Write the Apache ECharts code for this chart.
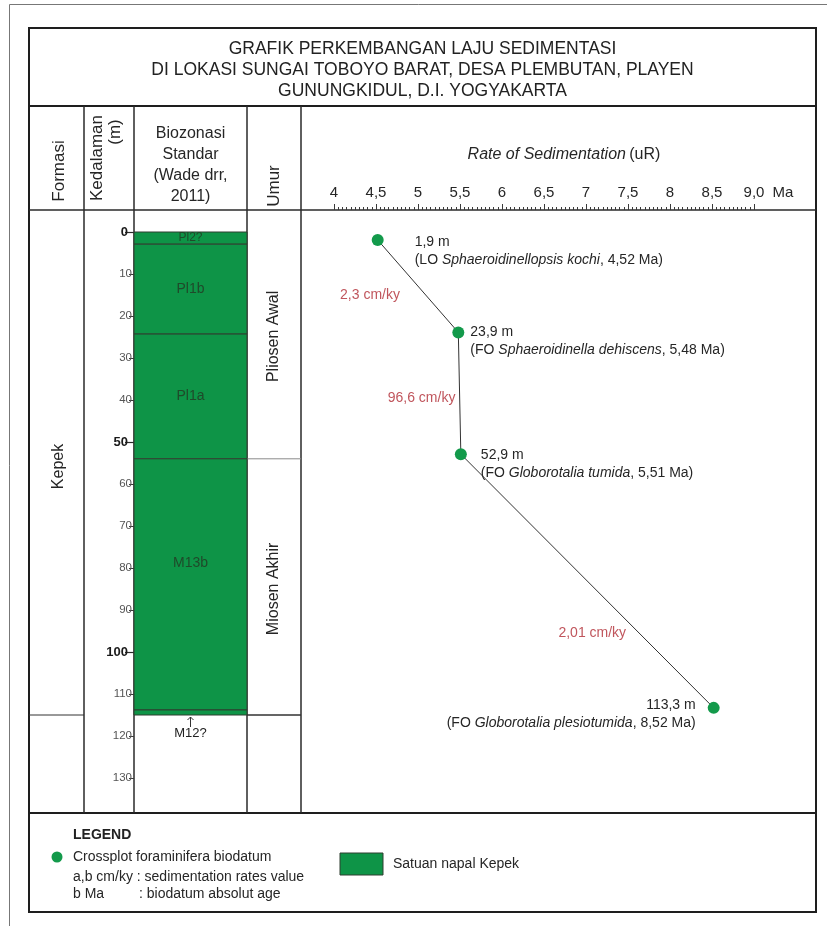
<!DOCTYPE html>
<html>
<head>
<meta charset="utf-8">
<script src="https://cdn.jsdelivr.net/npm/echarts@6/dist/echarts.min.js"></script>
<style>
  html, body { margin: 0; padding: 0; background: #ffffff; }
  #chart { width: 827px; height: 926px; }
</style>
</head>
<body>
<div id="chart"></div>
<script>
// ---- Biodatum crossplot: absolute age (Ma) against depth (m) ----
const datumAges = [4.52, 5.48, 5.51, 8.52];
const datumDepths = [1.9, 23.9, 52.9, 113.3];
const datumEvents = ['LO', 'FO', 'FO', 'FO'];
const datumSpecies = [
  'Sphaeroidinellopsis kochi',
  'Sphaeroidinella dehiscens',
  'Globorotalia tumida',
  'Globorotalia plesiotumida'
];
// sedimentation rate between consecutive biodatums
const rateLabels = ['2,3 cm/ky', '96,6 cm/ky', '2,01 cm/ky'];

// ---- Standard biozones (Wade drr, 2011) ----
const zoneNames = ['Pl2?', 'Pl1b', 'Pl1a', 'M13b', 'M12?'];
const zoneTops = [0, 2.9, 24.3, 54.0, 113.8];
const zoneBases = [2.9, 24.3, 54.0, 113.8, 115.0];

// ---- Age (Umur) and formation ----
const epochNames = ['Pliosen Awal', 'Miosen Akhir'];
const epochBases = [54.0, 115.0];
const formationName = 'Kepek';
const formationBase = 115.0;

// ---- Axis ticks ----
const depthTicks = [0, 10, 20, 30, 40, 50, 60, 70, 80, 90, 100, 110, 120, 130];
const depthBoldTicks = [0, 50, 100];
const depthMax = 138.33;
const ageTicks = [4, 4.5, 5, 5.5, 6, 6.5, 7, 7.5, 8, 8.5, 9];
const ageTickLabels = ['4', '4,5', '5', '5,5', '6', '6,5', '7', '7,5', '8', '8,5', '9,0'];

// ---- Layout ----
const FONT = '"Liberation Sans", Arial, sans-serif';
const GREEN = '#0e9447';
const DOT = '#139a4b';
const RED = '#b02a33';
const INK = '#262626';
const BOX = { l: 29, t: 28, r: 816, b: 912 };
const TITLE_B = 106, HEAD_B = 210, LEG_T = 813;
const COLS = [29, 84, 134, 247, 301, 816];
const PLOT_T = 232;
const RATE_L = 334, RATE_R = 754;
const zoneLabelShift = [0, 0, 0, -21, 0];
const rateLabelOffsets = [[-48, 9], [-38, 5], [5, 52]];
const pointLabelLayout = [
  { position: 'right', offset: [31, 11], align: 'left' },
  { position: 'right', offset: [6, 9], align: 'left' },
  { position: 'right', offset: [14, 10], align: 'left' },
  { position: 'left', offset: [-12, 6], align: 'right' }
];

const fmt = (v, d) => v.toFixed(d).replace('.', ',');

const chart = echarts.init(document.getElementById('chart'), null, { renderer: 'canvas' });

const plotH = LEG_T - PLOT_T;
const pxPerM = plotH / depthMax;
// the rate panel starts at the header line, so its depth scale starts above 0 m
const rateDepthMin = -(PLOT_T - HEAD_B) / pxPerM;

const pointData = datumAges.map((a, i) => {
  const lay = pointLabelLayout[i];
  return {
    value: [a, datumDepths[i]],
    label: {
      show: true,
      position: lay.position,
      distance: 0,
      offset: lay.offset,
      align: lay.align,
      formatter: '{n|' + fmt(datumDepths[i], 1) + ' m}\n{t|(' + datumEvents[i] + ' }{i|' +
        datumSpecies[i] + '}{t|, ' + fmt(a, 2) + ' Ma)}',
      rich: {
        n: { fontSize: 14, fontFamily: FONT, color: INK, lineHeight: 18, align: lay.align },
        t: { fontSize: 14, fontFamily: FONT, color: INK, lineHeight: 18 },
        i: { fontSize: 14, fontFamily: FONT, color: INK, lineHeight: 18, fontStyle: 'italic' }
      }
    }
  };
});

const rateData = rateLabels.map((txt, i) => ({
  value: [(datumAges[i] + datumAges[i + 1]) / 2, (datumDepths[i] + datumDepths[i + 1]) / 2],
  label: {
    show: true,
    position: 'inside',
    offset: rateLabelOffsets[i],
    formatter: txt,
    color: RED,
    fontSize: 14,
    fontFamily: FONT
  }
}));

const zoneData = zoneNames.map((n, i) => [zoneTops[i], zoneBases[i], i]);

const depthAxisBase = {
  gridIndex: 0, type: 'value', inverse: true, min: 0, max: depthMax,
  position: 'left', axisLine: { show: false, onZero: false }, splitLine: { show: false }
};

chart.setOption({
  animation: false,
  backgroundColor: '#ffffff',
  grid: [
    { left: COLS[2], top: PLOT_T, width: COLS[3] - COLS[2], height: plotH, outerBoundsMode: 'none' },
    { left: RATE_L, top: HEAD_B, width: RATE_R - RATE_L, height: LEG_T - HEAD_B, outerBoundsMode: 'none' }
  ],
  xAxis: [
    { gridIndex: 0, type: 'value', min: 0, max: 1, show: false },
    {
      gridIndex: 1, type: 'value', position: 'top',
      min: 4, max: 9, interval: 0.5,
      axisLine: { show: false, onZero: false },
      splitLine: { show: false },
      axisTick: { show: true, length: 6, lineStyle: { color: '#3a3a3a', width: 1 } },
      minorTick: { show: true, splitNumber: 10, length: 3, lineStyle: { color: '#3a3a3a', width: 1 } },
      axisLabel: {
        margin: 10, fontSize: 15, fontFamily: FONT, color: INK,
        formatter: v => {
          const k = ageTicks.findIndex(t => Math.abs(t - v) < 1e-6);
          return k >= 0 ? ageTickLabels[k] : '';
        }
      }
    }
  ],
  yAxis: [
    Object.assign({}, depthAxisBase, {
      axisTick: {
        show: true, length: 5, customValues: depthTicks.filter(v => depthBoldTicks.indexOf(v) < 0),
        lineStyle: { color: '#3a3a3a', width: 1 }
      },
      axisLabel: {
        show: true, margin: 2, fontSize: 11.5, fontFamily: FONT, color: '#555555',
        customValues: depthTicks.filter(v => depthBoldTicks.indexOf(v) < 0)
      }
    }),
    Object.assign({}, depthAxisBase, {
      axisTick: {
        show: true, length: 9, customValues: depthBoldTicks,
        lineStyle: { color: '#2a2a2a', width: 1.2 }
      },
      axisLabel: {
        show: true, margin: 6, fontSize: 13, fontWeight: 'bold', fontFamily: FONT, color: '#1a1a1a',
        customValues: depthBoldTicks
      }
    }),
    {
      gridIndex: 1, type: 'value', inverse: true, min: rateDepthMin, max: depthMax,
      show: false, splitLine: { show: false }, axisLine: { onZero: false }
    }
  ],
  series: [
    {
      type: 'custom',
      name: 'Biozonasi',
      xAxisIndex: 0,
      yAxisIndex: 0,
      data: zoneData,
      renderItem: (params, api) => {
        const top = api.value(0), base = api.value(1), idx = api.value(2);
        const p0 = api.coord([0, top]);
        const p1 = api.coord([1, base]);
        const h = p1[1] - p0[1];
        const cx = (p0[0] + p1[0]) / 2;
        const children = [{
          type: 'rect',
          shape: { x: p0[0], y: p0[1], width: p1[0] - p0[0], height: h },
          style: { fill: GREEN, stroke: '#2f3f30', lineWidth: 1 }
        }];
        if (h > 8) {
          children.push({
            type: 'text',
            x: cx, y: p0[1] + h / 2 + zoneLabelShift[idx],
            style: {
              text: zoneNames[idx], fill: '#1f4a2a', align: 'center', verticalAlign: 'middle',
              font: (h < 20 ? '12px ' : '14px ') + FONT
            }
          });
        } else {
          // thin zone: name below with an arrow pointing up to it
          children.push({
            type: 'polyline',
            shape: { points: [[cx, p1[1] + 12], [cx, p1[1] + 2]] },
            style: { stroke: '#333', lineWidth: 1, fill: null }
          });
          children.push({
            type: 'polyline',
            shape: { points: [[cx - 3, p1[1] + 5], [cx, p1[1] + 2], [cx + 3, p1[1] + 5]] },
            style: { stroke: '#333', lineWidth: 1, fill: null }
          });
          children.push({
            type: 'text',
            x: cx, y: p1[1] + 18,
            style: {
              text: zoneNames[idx], fill: '#222', align: 'center', verticalAlign: 'middle',
              font: '13px ' + FONT
            }
          });
        }
        return { type: 'group', children: children };
      },
      z: 2
    },
    {
      type: 'line',
      name: 'Biodatum',
      xAxisIndex: 1,
      yAxisIndex: 2,
      data: pointData,
      symbol: 'circle',
      symbolSize: 12,
      itemStyle: { color: DOT },
      lineStyle: { color: '#333333', width: 1 },
      z: 5
    },
    {
      type: 'scatter',
      name: 'Laju sedimentasi',
      xAxisIndex: 1,
      yAxisIndex: 2,
      data: rateData,
      symbolSize: 1,
      itemStyle: { color: 'rgba(0,0,0,0)' },
      z: 6
    }
  ]
});

// ---- Frame, header and legend, placed with the depth scale ----
const yPx = d => chart.convertToPixel({ yAxisIndex: 0 }, d);
const line = (x1, y1, x2, y2, stroke, w) => ({
  type: 'line', silent: true,
  shape: { x1: x1, y1: y1, x2: x2, y2: y2 },
  style: { stroke: stroke, lineWidth: w }
});
const text = (t, x, y, opt) => Object.assign({
  type: 'text', silent: true, x: x, y: y,
  style: Object.assign({
    text: t, fill: INK, font: '17px ' + FONT, align: 'center', verticalAlign: 'middle'
  }, (opt && opt.style) || {})
}, opt && opt.rotation !== undefined ? { rotation: opt.rotation } : {});

const g = [];
// outer page frame
g.push(line(9.5, 4.5, 827, 4.5, '#777', 1));
g.push(line(9.5, 4.5, 9.5, 926, '#777', 1));
// main box
g.push({ type: 'rect', silent: true, shape: { x: BOX.l, y: BOX.t, width: BOX.r - BOX.l, height: BOX.b - BOX.t },
  style: { fill: null, stroke: '#1e1e1e', lineWidth: 2 } });
g.push(line(BOX.l, TITLE_B, BOX.r, TITLE_B, '#1e1e1e', 2));
g.push(line(BOX.l, HEAD_B, BOX.r, HEAD_B, '#2a2a2a', 1.5));
g.push(line(BOX.l, LEG_T, BOX.r, LEG_T, '#1e1e1e', 2));
for (let i = 1; i < COLS.length - 1; i++) {
  g.push(line(COLS[i], TITLE_B, COLS[i], LEG_T, '#2a2a2a', 1.5));
}

// title
const titleLines = [
  'GRAFIK PERKEMBANGAN LAJU SEDIMENTASI',
  'DI LOKASI SUNGAI TOBOYO BARAT, DESA PLEMBUTAN, PLAYEN',
  'GUNUNGKIDUL, D.I. YOGYAKARTA'
];
const titleX = (BOX.l + BOX.r) / 2;
titleLines.forEach((t, i) => g.push(text(t, titleX, 49 + i * 21, { style: { font: '17.5px ' + FONT, fill: '#222' } })));

// column headers
const ROT = Math.PI / 2;
g.push(text('Formasi', 59, 171, { rotation: ROT }));
g.push(text('Kedalaman', 97, 158, { rotation: ROT }));
g.push(text('(m)', 115, 132, { rotation: ROT }));
['Biozonasi', 'Standar', '(Wade drr,', '2011)'].forEach((t, i) =>
  g.push(text(t, (COLS[2] + COLS[3]) / 2, 134 + i * 21, { style: { font: '16px ' + FONT } })));
g.push(text('Umur', 274, 186, { rotation: ROT }));
g.push({
  type: 'text', silent: true, x: 564, y: 155,
  style: {
    text: '{i|Rate of Sedimentation} {r|(uR)}', align: 'center', verticalAlign: 'middle',
    rich: {
      i: { fontSize: 16, fontFamily: FONT, fontStyle: 'italic', fill: INK },
      r: { fontSize: 16, fontFamily: FONT, fill: INK }
    }
  }
});
g.push(text('Ma', 783, 193, { style: { font: '15px ' + FONT } }));

// formation column
const fBase = yPx(formationBase);
g.push(line(COLS[0], fBase, COLS[1], fBase, '#333', 1));
g.push(text(formationName, (COLS[0] + COLS[1]) / 2 + 2, (HEAD_B + fBase) / 2 + 4, { rotation: ROT, style: { font: '16px ' + FONT } }));

// age column
let prev = HEAD_B;
epochNames.forEach((n, i) => {
  const yb = yPx(epochBases[i]);
  g.push(line(COLS[3], yb, COLS[4], yb, i === epochNames.length - 1 ? '#333' : '#8a8a8a', 1));
  g.push(text(n, (COLS[3] + COLS[4]) / 2, (prev + yb) / 2 + 2, { rotation: ROT, style: { font: '16px ' + FONT } }));
  prev = yb;
});
g.push(line(COLS[3], fBase, COLS[4], fBase, '#333', 1));

// legend
const legText = { font: '14px ' + FONT, align: 'left', fill: INK };
g.push(text('LEGEND', 73, 835, { style: { font: 'bold 14px ' + FONT, align: 'left', fill: '#222' } }));
g.push({ type: 'circle', silent: true, shape: { cx: 57, cy: 857, r: 5.5 }, style: { fill: DOT } });
g.push(text('Crossplot foraminifera biodatum', 73, 857, { style: legText }));
g.push(text('a,b cm/ky : sedimentation rates value', 73, 877, { style: legText }));
g.push(text('b Ma', 73, 894, { style: legText }));
g.push(text(': biodatum absolut age', 139, 894, { style: legText }));
g.push({ type: 'rect', silent: true, shape: { x: 340, y: 853, width: 43, height: 22 },
  style: { fill: GREEN, stroke: '#2f3f30', lineWidth: 1 } });
g.push(text('Satuan napal Kepek', 393, 864, { style: legText }));

chart.setOption({ graphic: { elements: g } });
</script>
</body>
</html>
